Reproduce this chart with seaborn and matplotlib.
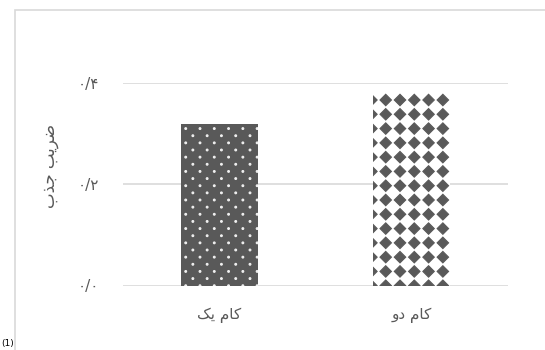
import numpy as np
import pandas as pd
import seaborn as sns
import matplotlib
matplotlib.use("Agg")
import matplotlib.pyplot as plt
import matplotlib.hatch as mhatch
from matplotlib.path import Path
from matplotlib.patches import Rectangle

# ---- data -------------------------------------------------------------
categories = ["کام یک", "کام دو"]
values = [0.32, 0.38]
y_ticks = [0.0, 0.2, 0.4]
y_tick_labels = ["۰/۰", "۰/۲", "۰/۴"]
y_label = "ضریب جذب"
corner_note = "(1)"

# ---- minimal Arabic-script shaping (matplotlib has no text shaping) ----
# letter: (isolated, final, initial, medial); None where the form does not exist
_FORMS = {
    "ا": ("\uFE8D", "\uFE8E", None, None),
    "ب": ("\uFE8F", "\uFE90", "\uFE91", "\uFE92"),
    "ج": ("\uFE9D", "\uFE9E", "\uFE9F", "\uFEA0"),
    "د": ("\uFEA9", "\uFEAA", None, None),
    "ذ": ("\uFEAB", "\uFEAC", None, None),
    "ر": ("\uFEAD", "\uFEAE", None, None),
    "ض": ("\uFEBD", "\uFEBE", "\uFEBF", "\uFEC0"),
    "م": ("\uFEE1", "\uFEE2", "\uFEE3", "\uFEE4"),
    "و": ("\uFEED", "\uFEEE", None, None),
    "ک": ("\uFB8E", "\uFB8F", "\uFB90", "\uFB91"),
    "ی": ("\uFBFC", "\uFBFD", "\uFBFE", "\uFBFF"),
}


def _dual(ch):
    return ch in _FORMS and _FORMS[ch][2] is not None


def shape_rtl(text):
    out = []
    for i, ch in enumerate(text):
        if ch not in _FORMS:
            out.append(ch)
            continue
        prev_joins = i > 0 and _dual(text[i - 1])
        next_joins = i + 1 < len(text) and text[i + 1] in _FORMS and _dual(ch)
        iso, fin, ini, med = _FORMS[ch]
        if prev_joins and next_joins:
            out.append(med)
        elif prev_joins:
            out.append(fin)
        elif next_joins:
            out.append(ini)
        else:
            out.append(iso)
    return "".join(reversed(out))


# ---- fill patterns ----------------------------------------------------
class _LatticeHatch(mhatch.HatchPatternBase):
    char = None
    shape_vertices = None
    shape_codes = None

    def lattice(self):
        return []

    def __init__(self, hatch, density):
        self.points = self.lattice() if self.char in hatch else []
        self.num_vertices = len(self.points) * len(self.shape_vertices)

    def set_vertices_and_codes(self, vertices, codes):
        n = len(self.shape_vertices)
        for k, (px, py) in enumerate(self.points):
            vertices[k * n:(k + 1) * n] = self.shape_vertices + [px, py]
            codes[k * n:(k + 1) * n] = self.shape_codes


class StaggeredDots(_LatticeHatch):
    char = "."
    _c = Path.unit_circle()
    shape_vertices = _c.vertices * 0.009
    shape_codes = _c.codes

    def lattice(self):
        cols, rows = 7, 14
        pts = []
        for r in range(rows + 1):
            if r % 2 == 0:
                xs = [k / cols for k in range(cols + 1)]
            else:
                xs = [(k + 0.5) / cols for k in range(cols)]
            pts += [(x, r / rows) for x in xs]
        return pts


class DiamondGrid(_LatticeHatch):
    char = "*"
    _r = 0.40 / 7
    shape_vertices = np.array([[0, -_r], [_r, 0], [0, _r], [-_r, 0], [0, -_r]])
    shape_codes = np.array([Path.MOVETO, Path.LINETO, Path.LINETO,
                            Path.LINETO, Path.CLOSEPOLY], dtype=Path.code_type)

    def lattice(self):
        n = 7
        return [(i / n, j / n) for j in range(n + 1) for i in range(n + 1)]


mhatch._hatch_types = [h for h in mhatch._hatch_types
                       if h.__name__ not in ("SmallFilledCircles", "Stars")]
mhatch._hatch_types += [StaggeredDots, DiamondGrid]

# ---- figure -----------------------------------------------------------
sns.set_theme(style="white")
plt.rcParams["font.family"] = ["DejaVu Sans"]
plt.rcParams["hatch.linewidth"] = 0.8

text_grey = "#595959"
bar_grey = "#595959"
grid_grey = "#d9d9d9"

fig = plt.figure(figsize=(5.45, 3.5), dpi=100)
ax = fig.add_axes([123 / 545, 1 - 285.5 / 350, 385 / 545, 202.5 / 350])

df = pd.DataFrame({"category": [shape_rtl(c) for c in categories],
                   "value": values})
sns.barplot(data=df, x="category", y="value", hue="category",
            palette=["#595959", "#ffffff"], width=0.4, legend=False,
            saturation=1, ax=ax)

fills = [(bar_grey, "..", "#f0f0f0"), ("#ffffff", "**", bar_grey)]
for bar, (face, pattern, hcol) in zip(ax.patches, fills):
    bar.set_facecolor(face)
    bar.set_hatch(pattern)
    bar.set_edgecolor(hcol)
    if hasattr(bar, "set_hatchcolor"):
        bar.set_hatchcolor(hcol)
    bar.set_linewidth(0)

ax.set_ylim(0, 0.4)
ax.set_yticks(y_ticks)
ax.set_yticklabels(y_tick_labels)
ax.yaxis.grid(True, color=grid_grey, linewidth=1.2)
ax.set_axisbelow(True)
for s in ax.spines.values():
    s.set_visible(False)
ax.tick_params(axis="both", length=0, colors=text_grey)
ax.tick_params(axis="y", pad=17, labelsize=11)
ax.tick_params(axis="x", pad=16, labelsize=11)
ax.set_xlabel("")
ax.set_ylabel(shape_rtl(y_label), color=text_grey, fontsize=12)
ax.yaxis.set_label_coords(-0.165, 0.59)

# frame around the chart area
fig.add_artist(Rectangle((14.5 / 545, -0.2), 1.2, 1.2 - 9.5 / 350,
                         transform=fig.transFigure, fill=False,
                         edgecolor=grid_grey, linewidth=1.2))
fig.text(1 / 545, 2 / 350, corner_note, ha="left", va="bottom",
         fontsize=6.5, color="#000000")

fig.savefig("out.png", dpi=100)
